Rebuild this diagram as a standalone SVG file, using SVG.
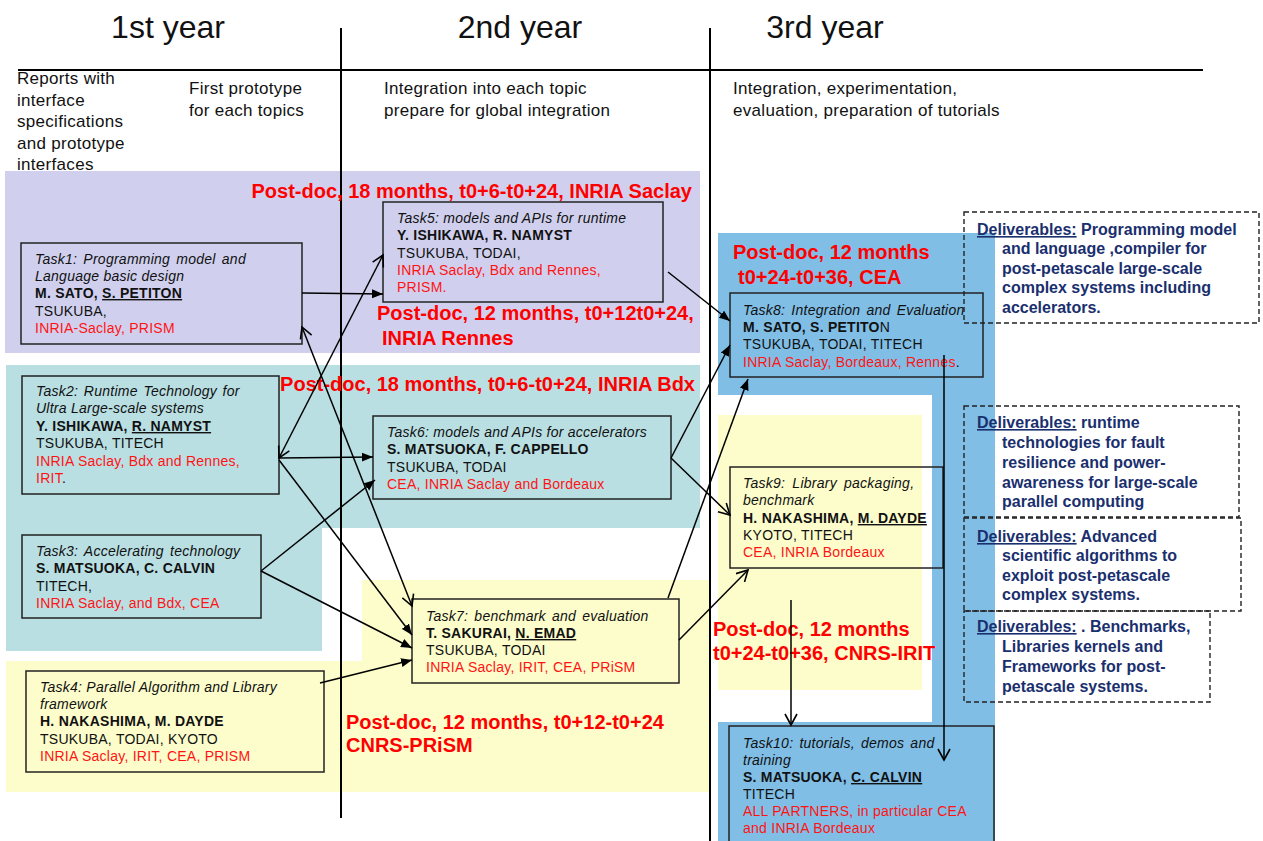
<svg xmlns="http://www.w3.org/2000/svg" width="1263" height="841" viewBox="0 0 1263 841">
<defs>
<style>
text{font-family:"Liberation Sans",Arial,sans-serif;fill:#111}
.hd{font-size:32px;text-anchor:middle}
.sh{font-size:17px;letter-spacing:0.3px}
.t{font-size:14px;letter-spacing:0.25px}
.i{font-style:italic}
.b{font-weight:bold}
.u{text-decoration:underline}
.r{fill:#FF1414}
.pd{font-size:20px;font-weight:bold;fill:#FF0000}
.dv{font-size:16px;font-weight:bold;fill:#1A2F6E}
.box{fill:none;stroke:#222;stroke-width:1.5}
.dash{fill:none;stroke:#222;stroke-width:1.4;stroke-dasharray:5 3}
.c{stroke:#000;stroke-width:1.5;fill:none}
</style>
<marker id="af" markerUnits="userSpaceOnUse" markerWidth="12" markerHeight="10" refX="11" refY="5" orient="auto-start-reverse"><path d="M0,0.5 L11,5 L0,9.5 z" fill="#000"/></marker>
<marker id="ao" markerUnits="userSpaceOnUse" markerWidth="14" markerHeight="14" refX="12" refY="7" orient="auto-start-reverse"><path d="M1,1 L12,7 L1,13" fill="none" stroke="#000" stroke-width="1.6"/></marker>
</defs>
<rect width="1263" height="841" fill="#fff"/>
<g id="bands">
<rect x="5" y="171" width="695" height="182" fill="#D0D0EE"/>
<path d="M6,365 H700 V528 H322 V651 H6 z" fill="#B9DFE3"/>
<path d="M362,580 H710 V792 H6 V661 H362 z" fill="#FDFDCC"/>
<rect x="718" y="415" width="204" height="275" fill="#FDFDCC"/>
<rect x="718" y="233" width="277" height="162" fill="#80BEE6"/>
<rect x="932" y="233" width="63" height="608" fill="#80BEE6"/>
<rect x="718" y="722" width="277" height="119" fill="#80BEE6"/>
</g>
<g id="grid">
<line x1="341" y1="28" x2="341" y2="818" stroke="#000" stroke-width="2"/>
<line x1="710" y1="28" x2="710" y2="841" stroke="#000" stroke-width="2"/>
<line x1="18" y1="70" x2="1203" y2="70" stroke="#000" stroke-width="2"/>
</g>
<g id="headers">
<text class="hd" x="168" y="38">1st year</text>
<text class="hd" x="520" y="38">2nd year</text>
<text class="hd" x="825" y="38">3rd year</text>
<text class="sh" x="17" y="84">Reports with</text>
<text class="sh" x="17" y="106">interface</text>
<text class="sh" x="17" y="127">specifications</text>
<text class="sh" x="17" y="149">and prototype</text>
<text class="sh" x="17" y="170">interfaces</text>
<text class="sh" x="189" y="94">First prototype</text>
<text class="sh" x="189" y="116">for each topics</text>
<text class="sh" x="384" y="94">Integration into each topic</text>
<text class="sh" x="384" y="116">prepare for global integration</text>
<text class="sh" x="733" y="94">Integration, experimentation,</text>
<text class="sh" x="733" y="116">evaluation, preparation of tutorials</text>
</g>
<g id="postdocs">
<text class="pd" x="692" y="198" text-anchor="end">Post-doc, 18 months, t0+6-t0+24, INRIA Saclay</text>
<text class="pd" x="377" y="320">Post-doc, 12 months, t0+12t0+24,</text>
<text class="pd" x="382" y="345">INRIA Rennes</text>
<text class="pd" x="695" y="391" text-anchor="end">Post-doc, 18 months, t0+6-t0+24, INRIA Bdx</text>
<text class="pd" x="733" y="259">Post-doc, 12 months</text>
<text class="pd" x="738" y="284">t0+24-t0+36, CEA</text>
<text class="pd" x="713" y="636">Post-doc, 12 months</text>
<text class="pd" x="713" y="660">t0+24-t0+36, CNRS-IRIT</text>
<text class="pd" x="346" y="729">Post-doc, 12 months, t0+12-t0+24</text>
<text class="pd" x="346" y="752">CNRS-PRiSM</text>
</g>
<g id="task1">
<rect class="box" x="21" y="243" width="281" height="101"/>
<text class="t i" x="35" y="264" word-spacing="2">Task1: Programming model and</text>
<text class="t i" x="35" y="281">Language basic design</text>
<text class="t b" x="35" y="298">M. SATO, <tspan class="u">S. PETITON</tspan></text>
<text class="t" x="35" y="316">TSUKUBA,</text>
<text class="t r" x="35" y="333">INRIA-Saclay, PRISM</text>
</g>
<g id="task5">
<rect class="box" x="383" y="202" width="280" height="100"/>
<text class="t i" x="397" y="223">Task5: models and APIs for runtime</text>
<text class="t b" x="397" y="240">Y. ISHIKAWA, R. NAMYST</text>
<text class="t" x="397" y="258">TSUKUBA, TODAI,</text>
<text class="t r" x="397" y="275">INRIA Saclay, Bdx and Rennes,</text>
<text class="t r" x="397" y="292">PRISM.</text>
</g>
<g id="task2">
<rect class="box" x="22" y="376" width="257" height="118"/>
<text class="t i" x="36" y="396" word-spacing="1.5">Task2: Runtime Technology for</text>
<text class="t i" x="36" y="413">Ultra Large-scale systems</text>
<text class="t b" x="36" y="431">Y. ISHIKAWA, <tspan class="u">R. NAMYST</tspan></text>
<text class="t" x="36" y="448">TSUKUBA, TITECH</text>
<text class="t r" x="36" y="466">INRIA Saclay, Bdx and Rennes,</text>
<text class="t" x="36" y="483"><tspan class="r">IRIT</tspan>.</text>
</g>
<g id="task3">
<rect class="box" x="22" y="535" width="239" height="83"/>
<text class="t i" x="36" y="556" word-spacing="2">Task3: Accelerating technology</text>
<text class="t b" x="36" y="573">S. MATSUOKA, C. CALVIN</text>
<text class="t" x="36" y="591">TITECH,</text>
<text class="t r" x="36" y="608">INRIA Saclay, and Bdx, CEA</text>
</g>
<g id="task6">
<rect class="box" x="373" y="416" width="298" height="83"/>
<text class="t i" x="387" y="437">Task6: models and APIs for accelerators</text>
<text class="t b" x="387" y="454">S. MATSUOKA, F. CAPPELLO</text>
<text class="t" x="387" y="472">TSUKUBA, TODAI</text>
<text class="t r" x="387" y="489">CEA, INRIA Saclay and Bordeaux</text>
</g>
<g id="task7">
<rect class="box" x="412" y="599" width="267" height="84"/>
<text class="t i" x="426" y="621" word-spacing="2">Task7: benchmark and evaluation</text>
<text class="t b" x="426" y="638">T. SAKURAI, <tspan class="u">N. EMAD</tspan></text>
<text class="t" x="426" y="655">TSUKUBA, TODAI</text>
<text class="t r" x="426" y="672">INRIA Saclay, IRIT, CEA, PRiSM</text>
</g>
<g id="task4">
<rect class="box" x="26" y="671" width="298" height="101"/>
<text class="t i" x="40" y="692">Task4: Parallel Algorithm and Library</text>
<text class="t i" x="40" y="709">framework</text>
<text class="t b" x="40" y="726">H. NAKASHIMA, M. DAYDE</text>
<text class="t" x="40" y="744">TSUKUBA, TODAI, KYOTO</text>
<text class="t r" x="40" y="761">INRIA Saclay, IRIT, CEA, PRISM</text>
</g>
<g id="task8">
<rect class="box" x="730" y="293" width="253" height="84"/>
<text class="t i" x="743" y="315" word-spacing="2">Task8: Integration and Evaluation</text>
<text class="t" x="743" y="332"><tspan class="b">M. SATO, S. PETITO</tspan>N</text>
<text class="t" x="743" y="349">TSUKUBA, TODAI, TITECH</text>
<text class="t" x="743" y="367"><tspan class="r">INRIA Saclay, Bordeaux, Rennes</tspan>.</text>
</g>
<g id="task9">
<rect class="box" x="730" y="467" width="213" height="101"/>
<text class="t i" x="743" y="488" word-spacing="3">Task9: Library packaging,</text>
<text class="t i" x="743" y="505">benchmark</text>
<text class="t b" x="743" y="523">H. NAKASHIMA, <tspan class="u">M. DAYDE</tspan></text>
<text class="t" x="743" y="540">KYOTO, TITECH</text>
<text class="t r" x="743" y="557">CEA, INRIA Bordeaux</text>
</g>
<g id="task10">
<rect class="box" x="729" y="726" width="265" height="130"/>
<text class="t i" x="743" y="748" word-spacing="2">Task10: tutorials, demos and</text>
<text class="t i" x="743" y="765">training</text>
<text class="t b" x="743" y="782">S. MATSUOKA, <tspan class="u">C. CALVIN</tspan></text>
<text class="t" x="743" y="799">TITECH</text>
<text class="t r" x="743" y="816">ALL PARTNERS, in particular CEA</text>
<text class="t r" x="743" y="833">and INRIA Bordeaux</text>
</g>
<g id="deliv1">
<rect class="dash" x="964" y="212" width="295" height="111"/>
<text class="dv" x="977" y="235"><tspan class="u">Deliverables:</tspan> Programming model</text>
<text class="dv" x="1002" y="254">and language ,compiler for</text>
<text class="dv" x="1002" y="274">post-petascale large-scale</text>
<text class="dv" x="1002" y="293">complex systems including</text>
<text class="dv" x="1002" y="313">accelerators.</text>
</g>
<g id="deliv2">
<rect class="dash" x="964" y="406" width="275" height="111"/>
<text class="dv" x="977" y="428"><tspan class="u">Deliverables:</tspan> runtime</text>
<text class="dv" x="1002" y="448">technologies for fault</text>
<text class="dv" x="1002" y="468">resilience and power-</text>
<text class="dv" x="1002" y="488">awareness for large-scale</text>
<text class="dv" x="1002" y="507">parallel computing</text>
</g>
<g id="deliv3">
<rect class="dash" x="964" y="518" width="277" height="93"/>
<text class="dv" x="977" y="542"><tspan class="u">Deliverables:</tspan> Advanced</text>
<text class="dv" x="1002" y="561">scientific algorithms to</text>
<text class="dv" x="1002" y="581">exploit post-petascale</text>
<text class="dv" x="1002" y="600">complex systems.</text>
</g>
<g id="deliv4">
<rect class="dash" x="964" y="611" width="246" height="91"/>
<text class="dv" x="977" y="632"><tspan class="u">Deliverables:</tspan> . Benchmarks,</text>
<text class="dv" x="1002" y="652">Libraries kernels and</text>
<text class="dv" x="1002" y="672">Frameworks for post-</text>
<text class="dv" x="1002" y="692">petascale systems.</text>
</g>
<g id="connectors">
<line class="c" x1="302" y1="293" x2="383" y2="294" marker-end="url(#af)"/>
<line class="c" x1="279" y1="458" x2="383" y2="255" marker-start="url(#ao)" marker-end="url(#ao)"/>
<line class="c" x1="302" y1="327" x2="412" y2="606" marker-start="url(#ao)" marker-end="url(#ao)"/>
<line class="c" x1="279" y1="458" x2="373" y2="457" marker-end="url(#af)"/>
<line class="c" x1="279" y1="460" x2="412" y2="635" marker-end="url(#af)"/>
<line class="c" x1="261" y1="571" x2="375" y2="480" marker-end="url(#af)"/>
<line class="c" x1="261" y1="571" x2="412" y2="648" marker-end="url(#af)"/>
<line class="c" x1="320" y1="683" x2="412" y2="660" marker-end="url(#af)"/>
<line class="c" x1="668" y1="272" x2="730" y2="321" marker-end="url(#af)"/>
<line class="c" x1="671" y1="458" x2="730" y2="345" marker-end="url(#af)"/>
<line class="c" x1="671" y1="458" x2="730" y2="515" marker-end="url(#ao)"/>
<line class="c" x1="668" y1="598" x2="748" y2="379" marker-end="url(#af)"/>
<line class="c" x1="679" y1="640" x2="748" y2="570" marker-end="url(#ao)"/>
<line class="c" x1="791" y1="600" x2="791" y2="725" marker-end="url(#ao)"/>
<line class="c" x1="944" y1="355" x2="944" y2="760" marker-end="url(#ao)"/>
</g>
</svg>
